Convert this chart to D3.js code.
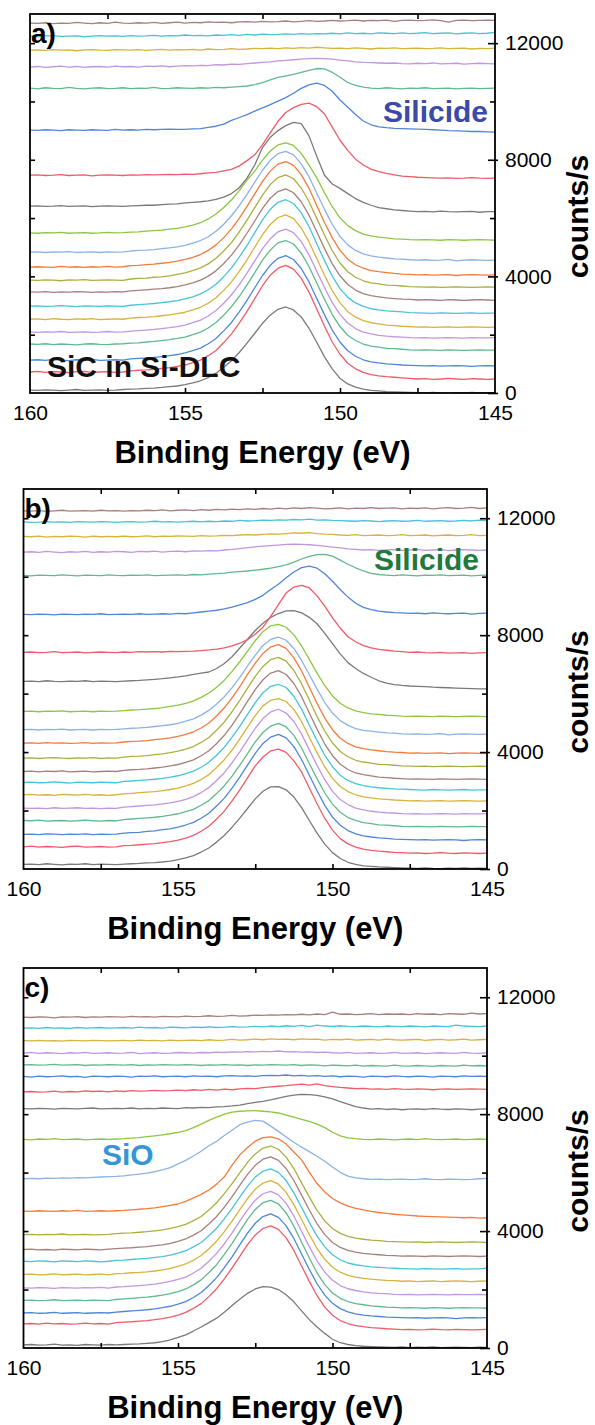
<!DOCTYPE html>
<meta charset="utf-8">
<script src="https://d3js.org/d3.v7.min.js"></script>
<style>
body {
  margin: 0;
  background: #fff;
  font-family: 'Liberation Sans', Arial, sans-serif;
}
</style>
<svg width="595" height="1425"></svg>

<script>
// binding energy grid (eV), one point every 0.25 eV
var energy = [160,159.75,159.5,159.25,159,158.75,158.5,158.25,158,157.75,157.5,157.25,157,
  156.75,156.5,156.25,156,155.75,155.5,155.25,155,154.75,154.5,154.25,154,153.75,153.5,153.25,153,
  152.75,152.5,152.25,152,151.75,151.5,151.25,151,150.75,150.5,150.25,150,149.75,149.5,149.25,149,
  148.75,148.5,148.25,148,147.75,147.5,147.25,147,146.75,146.5,146.25,146,145.75,145.5,145.25,145];

var xTickLabels = [160, 155, 150, 145];
var xMinor = [157.5, 155, 152.5, 150, 147.5];
var yTickLabels = [0, 4000, 8000, 12000];
var yMinor = [2000, 6000, 10000];

// curve colours, bottom to top (cycle of 12)
var colors = ["#7a7a7a", "#ef5b6a", "#4f86d8", "#61b98d", "#c097e0", "#d8b23c",
              "#48c3d8", "#a6807b", "#aab040", "#f47b3c", "#8cb2e6", "#8dc641"];

// ---- panel a : stacking offsets (counts/s) and spectra above offset ----
var offsetsA = [0, 480, 930, 1470, 1890, 2260, 2740, 3190, 3630, 4050, 4560, 5250, 6220, 7370, 8950, 10450, 11300, 11820, 12340, 12780];
var specA = [
[100,90,110,100,80,100,120,90,100,110,90,100,120,130,140,160,170,190,220,240,290,350,420,530,680,880,1110,1390,1710,2050,2390,2670,2870,2950,2850,2610,2220,1740,1240,830,500,310,200,130,90,70,50,40,30,20,10,0,20,0,-10,10,0,20,0,10,0],
[240,260,230,250,240,220,250,260,230,240,250,230,240,280,300,310,330,360,390,430,480,560,650,800,980,1250,1550,1920,2320,2760,3200,3560,3800,3900,3770,3450,2980,2400,1810,1270,850,540,350,230,150,110,80,60,40,20,0,10,-10,0,20,0,-10,10,0,-10,0],
[200,210,190,220,200,180,210,200,220,190,200,210,200,240,260,270,290,320,350,390,450,520,610,760,940,1200,1490,1850,2250,2680,3100,3450,3690,3780,3650,3340,2880,2310,1750,1230,820,520,330,210,140,100,70,50,30,20,10,0,10,-10,0,10,0,-20,0,10,0],
[210,200,220,190,210,200,180,210,220,200,190,210,220,240,250,280,300,330,360,400,450,530,620,760,950,1200,1490,1840,2240,2660,3090,3430,3680,3760,3640,3330,2870,2300,1740,1220,810,510,330,210,140,100,60,50,30,10,0,10,0,-10,10,0,-10,0,10,0,0],
[200,190,210,200,220,190,200,210,190,200,220,200,210,230,250,270,290,320,350,390,440,520,610,750,940,1190,1480,1830,2220,2640,3060,3400,3640,3730,3610,3300,2850,2290,1730,1210,800,510,320,200,140,90,60,40,30,10,0,10,-10,0,10,0,-10,10,0,0,10],
[270,280,260,290,270,260,280,270,290,260,270,280,270,310,330,340,360,390,420,460,510,590,680,820,1010,1260,1550,1910,2310,2740,3170,3520,3760,3850,3720,3400,2930,2350,1780,1250,830,530,340,220,150,110,70,50,30,20,0,10,-10,0,10,-10,0,10,0,-10,0],
[240,250,230,240,260,240,220,250,240,230,250,240,230,270,290,310,330,360,390,430,490,560,660,800,990,1250,1550,1920,2320,2760,3200,3560,3800,3890,3760,3440,2970,2380,1800,1270,840,540,350,230,150,110,80,60,40,20,10,0,-10,10,0,-10,0,10,-10,0,0],
[280,270,290,260,280,270,290,280,260,280,270,290,280,310,330,350,370,390,420,460,520,590,680,820,1000,1250,1540,1890,2290,2710,3140,3490,3720,3810,3680,3370,2910,2340,1770,1240,830,530,340,220,150,110,70,50,30,20,0,10,0,-10,10,0,-10,0,10,0,-10],
[240,230,250,240,220,250,240,260,230,240,250,240,230,280,300,310,340,350,390,440,490,570,660,800,990,1240,1530,1900,2300,2730,3160,3520,3760,3850,3720,3400,2940,2360,1790,1250,830,530,340,220,150,110,70,60,40,20,10,0,10,-10,0,10,0,-10,0,10,0],
[270,280,270,260,290,270,280,260,280,270,290,270,280,320,330,350,370,400,430,470,530,600,700,840,1030,1280,1580,1940,2350,2780,3210,3560,3800,3890,3760,3440,2970,2380,1800,1270,840,540,350,230,150,110,80,50,30,20,0,10,-10,0,10,-20,0,10,0,-10,0],
[270,280,260,280,270,290,260,270,280,260,280,270,280,310,330,340,360,390,420,450,500,580,670,800,990,1230,1520,1870,2250,2670,3080,3420,3650,3730,3610,3300,2860,2290,1740,1220,810,520,330,210,140,100,70,40,30,10,0,10,-10,0,20,-30,0,10,0,-10,0],
[240,230,250,240,260,230,240,250,230,240,260,240,250,270,280,300,320,340,370,400,450,510,590,720,890,1110,1370,1690,2050,2360,2740,3050,3260,3330,3240,2970,2570,2130,1620,1140,760,490,320,200,140,100,70,40,30,10,0,10,0,-10,10,0,-10,0,10,0,-10],
[190,200,180,190,210,180,190,200,170,190,200,190,180,200,210,220,220,240,260,270,300,320,340,370,420,500,620,820,1150,1600,2200,2550,2780,2950,3060,3020,2600,1900,1250,950,800,620,450,320,220,140,100,60,40,20,0,10,-10,20,0,-10,0,10,-20,0,0],
[100,110,90,100,120,90,100,110,80,100,110,100,90,110,100,120,110,120,130,120,140,130,150,180,200,250,300,420,600,800,1150,1550,1950,2250,2420,2530,2570,2450,2200,1750,1300,950,650,450,310,220,160,110,70,50,30,20,10,0,10,-10,0,20,0,-10,0],
[70,60,80,70,50,80,70,60,80,70,60,90,70,80,70,90,80,90,100,90,90,110,120,160,200,270,400,500,600,720,830,940,1060,1180,1330,1500,1620,1680,1600,1400,1100,850,600,380,250,180,150,130,120,110,100,90,80,70,50,40,30,20,20,10,0],
[10,-20,20,0,-10,30,0,-20,10,20,-10,0,20,-10,10,0,30,-10,0,20,10,0,20,10,30,20,40,60,80,130,200,290,380,430,480,550,620,680,670,550,380,200,100,40,10,-10,20,0,-20,10,0,20,-10,0,10,-20,0,10,-10,0,10],
[-120,-100,-130,-110,-90,-120,-100,-130,-110,-100,-120,-90,-110,-100,-120,-90,-100,-80,-110,-90,-70,-80,-60,-70,-40,-50,-20,-30,0,20,40,60,90,110,130,150,170,180,170,150,120,90,60,40,30,20,10,20,0,-10,10,0,20,-10,0,10,-20,0,10,0,-10],
[-60,-50,-70,-40,-60,-50,-80,-50,-40,-60,-70,-40,-50,-60,-40,-70,-50,-30,-60,-40,-50,-30,-60,-20,-40,-30,-10,-30,-20,0,-10,10,-10,20,0,30,10,40,20,0,10,-10,20,0,-20,10,0,20,-10,0,10,-10,0,20,-10,0,10,-20,0,-10,10],
[-100,-120,-90,-80,-110,-100,-90,-120,-100,-80,-100,-90,-110,-80,-100,-90,-70,-100,-80,-90,-60,-80,-70,-90,-60,-70,-50,-70,-40,-60,-30,-50,-40,-20,-40,-10,-30,-10,-20,0,-20,10,-10,0,-20,10,0,-10,10,-10,0,20,-10,0,10,-20,0,10,-10,0,30],
[-90,-100,-80,-110,-90,-100,-70,-90,-110,-80,-100,-60,-90,-100,-80,-90,-70,-100,-80,-60,-90,-70,-80,-50,-70,-60,-80,-50,-40,-60,-30,-50,-40,-20,-50,-30,-10,-30,-20,0,-20,-10,10,-20,0,-10,10,-30,0,10,-10,0,20,-10,-60,0,10,-10,0,10,0]
];

// ---- panel b ----
var offsetsB = [20, 540, 995, 1450, 1885, 2330, 2710, 3075, 3510, 3965, 4615, 5220, 6160, 7394, 8742, 10045, 10913, 11416, 11906, 12343];
var specB = [
[140,150,130,160,140,120,150,140,160,130,150,140,130,150,160,170,190,200,220,250,300,360,440,560,700,900,1130,1410,1720,2050,2380,2640,2790,2800,2690,2440,2080,1640,1210,830,540,340,210,140,90,70,50,40,30,20,10,0,20,0,-10,10,0,20,0,10,0],
[220,240,210,230,220,200,230,240,210,220,230,210,220,260,270,290,310,330,360,400,450,520,610,750,920,1170,1440,1790,2170,2580,2990,3290,3500,3560,3450,3160,2780,2230,1690,1190,790,500,320,210,140,100,70,50,30,20,0,10,-10,0,20,0,-10,10,0,-10,0],
[190,200,180,210,200,180,200,190,210,180,200,190,200,230,250,260,290,310,350,380,440,510,600,740,910,1160,1430,1770,2150,2560,2960,3300,3520,3610,3490,3190,2750,2210,1680,1180,780,500,320,210,140,100,70,50,30,20,10,0,10,-10,0,10,0,-20,0,10,0],
[210,200,220,190,200,210,190,200,220,200,190,210,200,240,260,280,300,320,350,390,440,510,590,730,890,1130,1400,1730,2100,2500,2900,3220,3440,3530,3410,3120,2690,2160,1640,1150,770,490,310,210,140,100,60,50,30,10,0,10,0,-10,10,0,-10,0,10,0,0],
[200,190,200,180,210,190,200,210,190,200,180,200,190,230,250,270,290,310,340,380,430,500,590,730,900,1140,1410,1750,2120,2530,2930,3260,3490,3580,3450,3160,2730,2190,1660,1170,770,490,320,200,140,90,60,40,30,10,0,10,-10,0,10,0,-10,10,0,0,10],
[210,220,200,210,190,220,210,200,220,200,210,190,210,240,260,280,300,320,350,390,440,510,600,730,900,1140,1410,1740,2120,2520,2920,3250,3440,3500,3400,3130,2710,2180,1650,1160,770,490,320,210,140,100,70,50,30,20,0,10,-10,0,10,-10,0,10,0,-10,0],
[250,260,240,250,270,250,230,260,250,240,260,250,240,290,300,320,340,360,390,430,480,550,640,770,940,1180,1460,1800,2170,2580,2980,3320,3540,3610,3500,3200,2760,2210,1680,1180,790,500,320,210,140,100,70,50,30,20,10,0,-10,10,0,-10,0,10,-10,0,0],
[260,270,250,270,260,280,250,260,270,250,260,270,260,300,320,330,350,380,410,450,500,570,660,800,970,1220,1500,1850,2240,2660,3060,3400,3630,3710,3580,3270,2820,2260,1710,1200,800,510,330,210,150,110,70,50,30,20,0,10,0,-10,10,0,-10,0,10,0,-10],
[280,290,270,290,300,280,270,290,280,300,270,290,280,320,340,350,370,400,430,470,520,590,680,820,990,1240,1520,1870,2260,2680,3080,3420,3650,3730,3600,3280,2830,2270,1710,1210,800,510,330,210,150,110,70,60,40,20,10,0,10,-10,0,10,0,-10,0,10,0],
[340,350,330,360,340,350,330,340,360,330,350,340,350,380,400,410,430,460,490,520,570,640,730,860,1030,1270,1550,1890,2270,2690,3080,3410,3630,3710,3580,3260,2810,2250,1700,1200,800,510,330,210,150,110,80,50,30,20,0,10,-10,0,10,-20,0,10,0,-10,0],
[150,160,140,160,150,170,140,150,160,140,160,150,160,180,200,210,230,260,290,320,370,440,520,650,810,1030,1280,1590,1940,2330,2700,3030,3240,3320,3210,2930,2520,2030,1540,1080,720,460,300,190,130,100,70,40,30,10,0,10,-10,0,20,-30,0,10,0,-10,0],
[170,180,160,180,170,190,160,170,180,160,180,170,180,200,220,230,250,270,300,340,390,450,530,650,800,1000,1240,1540,1870,2230,2590,2900,3100,3150,3050,2790,2410,1950,1480,1050,700,450,290,190,130,90,70,40,30,10,0,10,0,-10,10,0,-10,0,10,0,-10],
[260,270,250,280,260,250,270,260,280,250,270,260,250,270,280,290,310,330,350,380,410,450,500,540,580,700,870,1100,1400,1700,2000,2250,2450,2580,2670,2680,2600,2450,2230,1900,1550,1200,900,700,530,400,280,200,150,120,100,90,80,60,50,40,30,20,10,0,0],
[20,30,10,20,40,10,20,30,0,20,30,20,10,30,20,40,30,40,30,50,40,50,60,80,100,130,170,240,330,450,640,880,1250,1650,2050,2250,2310,2220,1950,1600,1200,850,550,380,250,170,120,90,60,40,20,30,10,0,20,-10,0,10,-20,0,10],
[-30,-40,-20,-30,-50,-20,-30,-40,-20,-30,-10,-40,-30,-20,-30,-10,-30,-20,-10,-20,0,-10,20,50,80,110,160,220,290,370,480,620,820,1000,1220,1420,1570,1620,1550,1360,1100,820,560,350,210,130,80,50,30,20,0,10,-10,20,0,-10,0,10,-20,0,10],
[0,-20,10,0,-10,20,0,-20,10,0,-10,20,0,-10,10,0,20,-10,0,10,20,0,30,20,40,60,80,110,130,150,180,210,250,300,360,450,560,650,710,720,660,520,380,260,150,70,30,10,-10,20,0,-20,10,0,20,-10,0,10,-20,0,10],
[-70,-60,-80,-50,-70,-90,-60,-70,-50,-80,-60,-70,-50,-60,-80,-50,-60,-40,-70,-50,-40,-60,-30,-40,-20,-30,0,20,50,80,110,130,150,170,190,200,190,180,160,130,100,70,40,20,0,10,-10,0,10,-10,0,20,-10,0,10,-20,0,10,0,-10,0],
[-40,-50,-30,-60,-40,-50,-30,-40,-60,-30,-50,-40,-50,-30,-50,-40,-20,-50,-30,-40,-20,-30,-40,-10,-30,-20,0,-10,10,20,10,30,50,40,60,80,70,90,60,40,30,10,0,20,-10,0,10,-10,0,20,-10,0,10,-20,0,10,-10,0,20,-10,0],
[-30,-50,-40,-20,-40,-30,-50,-20,-30,-40,-20,-30,-50,-30,-20,-40,-30,-10,-30,-20,-40,-20,-10,-30,-10,-20,0,-10,20,0,10,30,20,40,30,50,40,60,30,40,20,10,0,-10,10,0,-20,0,10,-10,0,20,-10,0,10,-10,0,20,0,30,10],
[-90,-100,-80,-110,-90,-70,-100,-90,-80,-100,-70,-90,-80,-100,-80,-90,-70,-80,-60,-90,-70,-60,-80,-50,-70,-40,-60,-30,-50,-20,-40,-10,-30,0,-20,10,-10,20,0,-20,-10,10,-20,0,-10,20,-10,0,10,-20,0,-10,10,-20,0,20,-10,0,30,-10,10]
];

// ---- panel c ----
var offsetsC = [20, 628, 1028, 1370, 1827, 2284, 2708, 3140, 3620, 4456, 5770, 7140, 8170, 8855, 9290, 9655, 10090, 10546, 11005, 11427];
var specC = [
[90,100,80,90,110,80,90,70,100,90,80,100,90,100,110,120,140,160,200,260,340,430,560,700,850,1000,1200,1430,1650,1850,2000,2080,2060,1980,1800,1560,1250,950,700,480,280,160,100,60,40,30,20,10,0,20,-10,10,0,20,-10,0,10,0,-10,10,0],
[200,210,190,220,200,210,190,200,220,200,210,190,240,260,270,290,310,340,380,430,500,590,730,890,1130,1400,1740,2110,2510,2910,3240,3460,3550,3430,3140,2710,2180,1650,1160,770,490,310,210,140,100,70,50,30,20,0,10,-10,0,20,0,-10,10,0,-10,0,10],
[170,180,160,170,190,160,170,180,160,170,180,170,200,220,240,260,280,310,350,400,470,560,700,870,1110,1380,1720,2090,2500,2900,3240,3470,3560,3440,3150,2720,2190,1660,1170,780,500,320,210,140,100,70,50,30,20,10,0,10,-10,0,10,0,-20,0,10,0,10],
[260,270,250,260,280,250,260,270,250,270,260,250,290,310,330,350,370,400,440,490,560,650,790,960,1210,1480,1830,2210,2620,3030,3370,3600,3680,3560,3250,2800,2250,1710,1200,800,510,330,220,150,110,70,50,30,20,0,10,0,-10,10,0,-10,0,10,0,0,-10],
[230,220,240,230,210,240,230,220,240,230,250,220,260,270,290,310,330,360,400,450,520,600,740,900,1140,1410,1740,2110,2510,2900,3230,3450,3530,3410,3120,2690,2160,1640,1150,770,490,310,200,140,90,60,40,30,10,0,10,-10,0,10,0,-10,10,0,0,10,-10],
[230,240,220,230,250,220,230,240,220,230,240,220,260,270,290,300,320,350,390,440,510,590,720,880,1110,1370,1700,2060,2450,2830,3150,3360,3440,3320,3040,2620,2110,1600,1120,750,480,310,200,140,100,70,50,30,20,0,10,-10,0,10,-10,0,10,0,-10,0,10],
[260,250,270,260,240,270,260,250,270,260,240,260,290,300,320,340,360,390,420,470,540,620,750,900,1130,1390,1710,2070,2450,2830,3140,3340,3420,3300,3020,2600,2100,1590,1120,750,480,310,200,140,100,70,50,30,20,10,0,-10,10,0,-10,0,10,-10,0,0,20],
[230,240,220,230,210,240,230,220,240,230,220,240,260,280,290,310,330,360,390,440,510,590,720,870,1100,1360,1680,2040,2420,2800,3110,3320,3400,3280,3000,2590,2090,1580,1110,740,470,300,200,140,100,70,50,30,20,0,10,0,-10,10,0,-10,0,10,0,-10,0],
[260,270,250,270,260,280,250,260,270,250,260,270,290,310,320,340,360,390,420,470,530,610,740,880,1100,1350,1660,2000,2370,2730,3020,3220,3290,3180,2910,2520,2030,1540,1090,730,470,300,200,140,100,70,50,30,20,10,0,10,-10,0,10,0,-10,0,10,0,-10],
[230,220,240,230,220,240,230,250,220,230,240,230,240,250,270,290,310,340,380,420,470,560,680,800,950,1150,1400,1800,2150,2400,2620,2740,2770,2700,2520,2250,1980,1560,1170,880,660,510,400,320,270,220,180,150,120,100,80,60,50,40,30,20,10,0,10,-10,0],
[20,30,20,40,30,50,40,60,50,70,80,90,100,120,150,180,210,260,320,400,530,650,800,960,1150,1300,1500,1680,1870,1960,2020,1990,1820,1640,1450,1270,1100,950,790,620,420,240,110,50,20,0,10,-10,0,10,-10,0,20,0,-10,10,0,-10,0,20,30],
[0,-20,10,0,20,-10,0,10,-20,0,10,0,10,20,40,60,90,120,150,190,240,300,400,520,650,760,860,930,960,970,980,960,940,900,830,760,680,610,520,400,240,120,50,20,0,-10,10,0,-20,0,10,-10,20,0,-10,0,10,-10,0,10,0],
[20,10,30,20,0,30,20,10,30,40,10,20,30,20,40,10,30,20,40,30,20,50,40,60,50,80,90,110,140,190,230,270,320,380,440,480,510,500,470,420,350,260,170,90,40,0,20,-10,10,-20,0,10,-10,20,0,-10,10,0,-20,0,10],
[-90,-80,-100,-90,-70,-100,-80,-90,-60,-80,-70,-90,-60,-80,-50,-70,-60,-40,-60,-50,-30,-50,-20,-40,-10,-30,0,-20,10,30,20,50,80,100,120,150,170,140,180,120,90,60,40,20,30,0,10,-10,20,0,-10,10,0,-20,0,10,-10,0,10,0,-10],
[0,-20,10,-10,0,20,-10,0,-30,10,0,-10,10,0,-20,10,0,20,-10,0,10,-10,20,0,10,-10,20,30,10,20,0,30,40,30,50,20,40,10,30,0,20,-10,10,0,-20,10,0,-10,20,0,-10,10,0,-20,10,0,-10,20,0,10,0],
[30,40,20,30,50,20,30,40,10,30,20,40,30,20,40,10,30,20,40,30,20,40,30,10,30,20,40,20,30,10,30,20,40,30,20,40,10,30,20,0,20,10,0,20,-10,10,0,-10,20,0,-10,10,0,-20,10,0,-10,20,0,10,0],
[0,20,-10,10,0,-20,10,0,20,-10,0,10,-10,0,20,-20,0,10,-10,0,20,10,0,20,10,30,20,40,30,50,40,60,50,70,40,50,30,40,20,30,10,0,20,-10,0,10,-10,0,20,-10,0,10,-20,0,10,0,-10,20,0,-10,10],
[-30,-40,-20,-40,-30,-50,-20,-30,-40,-20,-30,-40,-30,-20,-40,-10,-30,-20,-40,-10,-30,-20,-10,-30,0,-20,-10,10,-10,0,20,0,30,10,20,0,30,10,20,-10,10,0,20,-10,0,10,-10,20,0,-10,0,10,-20,0,10,-10,0,20,-10,0,10],
[-60,-50,-70,-40,-60,-50,-70,-40,-60,-50,-40,-60,-50,-40,-60,-30,-50,-40,-60,-30,-40,-50,-30,-40,-20,-40,-30,-10,-30,-20,0,-20,10,-10,20,0,30,-10,40,10,0,20,0,-10,10,0,-20,10,0,-10,10,0,-20,10,0,-10,40,10,0,-10,10],
[-110,-120,-100,-110,-130,-100,-110,-90,-120,-100,-110,-90,-100,-110,-80,-100,-90,-110,-80,-90,-100,-70,-90,-80,-60,-80,-70,-50,-70,-60,-40,-50,-30,-40,-20,-30,-10,-30,0,-20,60,-10,0,-20,-10,10,-20,0,-10,0,-20,10,-10,0,-20,10,0,-10,30,0,10]
];

// layout of the three stacked panels
var panels = [
  {tag: "a)", offsets: offsetsA, spec: specA, left: 30, right: 495, top: 14, bottom: 393,
   notes: [{t: "Silicide", x: 488, y: 122, anchor: "end", color: "#3a4aa8"},
           {t: "SiC in Si-DLC", x: 47, y: 377, anchor: "start", color: "#111"}]},
  {tag: "b)", offsets: offsetsB, spec: specB, left: 23.5, right: 487, top: 489, bottom: 869,
   notes: [{t: "Silicide", x: 479, y: 570, anchor: "end", color: "#1f7a3c"}]},
  {tag: "c)", offsets: offsetsC, spec: specC, left: 23.5, right: 487, top: 968, bottom: 1348,
   notes: [{t: "SiO", x: 102, y: 1165, anchor: "start", color: "#3596d6"}]}
];

var svg = d3.select("svg");

panels.forEach(function(p, pi) {
  var x = d3.scaleLinear().domain([160, 145]).range([p.left, p.right]);
  var y = d3.scaleLinear().domain([0, 13000]).range([p.bottom, p.top]);
  var g = svg.append("g");

  g.append("clipPath").attr("id", "clip" + pi)
    .append("rect")
    .attr("x", p.left).attr("y", p.top)
    .attr("width", p.right - p.left).attr("height", p.bottom - p.top);

  var line = d3.line()
    .x(function(d) { return x(d[0]); })
    .y(function(d) { return y(d[1]); });

  // spectra, stacked with their offsets
  g.append("g").attr("clip-path", "url(#clip" + pi + ")")
    .selectAll("path")
    .data(p.spec)
    .enter().append("path")
    .attr("fill", "none")
    .attr("stroke-width", 1.3)
    .attr("stroke-linejoin", "round")
    .attr("stroke", function(d, k) { return colors[k % colors.length]; })
    .attr("d", function(vals, k) {
      return line(vals.map(function(v, i) { return [energy[i], p.offsets[k] + v]; }));
    });

  // inward ticks on all four sides
  g.append("g").attr("transform", "translate(0," + p.bottom + ")")
    .call(d3.axisBottom(x).tickValues(xMinor).tickSize(-5).tickFormat(""));
  g.append("g").attr("transform", "translate(0," + p.top + ")")
    .call(d3.axisTop(x).tickValues(xMinor).tickSize(-5).tickFormat(""));
  g.append("g").attr("transform", "translate(" + p.left + ",0)")
    .call(d3.axisLeft(y).tickValues(yMinor.concat([4000, 8000, 12000])).tickSize(-5).tickFormat(""));
  g.append("g").attr("transform", "translate(" + p.right + ",0)")
    .call(d3.axisRight(y).tickValues(yMinor).tickSize(-5).tickFormat(""));
  g.append("g").attr("transform", "translate(" + p.right + ",0)")
    .call(d3.axisRight(y).tickValues(yTickLabels).tickSize(-7).tickFormat(""));

  // x labels
  g.append("g").attr("class", "lab").attr("transform", "translate(0," + p.bottom + ")")
    .call(d3.axisBottom(x).tickValues(xTickLabels).tickSize(0).tickPadding(12).tickFormat(d3.format("d")));
  // y labels on the right
  g.append("g").attr("class", "lab").attr("transform", "translate(" + p.right + ",0)")
    .call(d3.axisRight(y).tickValues(yTickLabels).tickSize(3).tickPadding(7).tickFormat(d3.format("d")));

  g.selectAll(".domain").remove();
  g.selectAll(".tick line").attr("stroke", "#000").attr("stroke-width", 1.6);
  g.selectAll(".lab text").attr("font-size", 21).attr("fill", "#000")
    .attr("font-family", "'Liberation Sans', Arial, sans-serif");

  // frame
  g.append("rect")
    .attr("x", p.left).attr("y", p.top)
    .attr("width", p.right - p.left).attr("height", p.bottom - p.top)
    .attr("fill", "none").attr("stroke", "#000").attr("stroke-width", 1.8);

  // axis titles
  g.append("text")
    .attr("x", (p.left + p.right) / 2).attr("y", p.bottom + 70)
    .attr("text-anchor", "middle").attr("font-weight", "bold").attr("font-size", 31)
    .text("Binding Energy (eV)");
  g.append("text")
    .attr("transform", "translate(588," + ((p.top + p.bottom) / 2 + 13) + ") rotate(-90)")
    .attr("text-anchor", "middle").attr("font-weight", "bold").attr("font-size", 30)
    .text("counts/s");

  // panel tag and annotations
  g.append("text")
    .attr("x", p.left + 1).attr("y", p.top + 29)
    .attr("font-weight", "bold").attr("font-size", 28)
    .text(p.tag);
  g.selectAll(".note").data(p.notes).enter().append("text")
    .attr("class", "note")
    .attr("x", function(d) { return d.x; }).attr("y", function(d) { return d.y; })
    .attr("text-anchor", function(d) { return d.anchor; })
    .attr("fill", function(d) { return d.color; })
    .attr("font-weight", "bold").attr("font-size", 30)
    .text(function(d) { return d.t; });
});
</script>
